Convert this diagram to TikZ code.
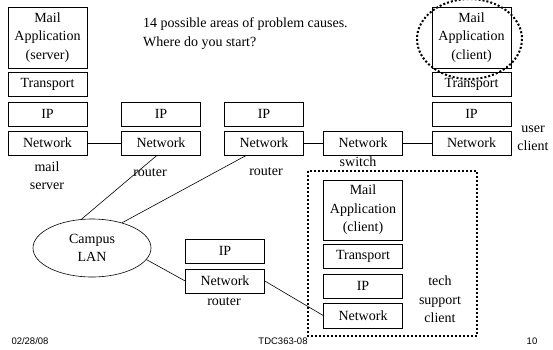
\documentclass[tikz,border=0pt]{standalone}
\usepackage{fontspec}
\setmainfont{Liberation Serif}
\setsansfont{Liberation Sans}
\usetikzlibrary{shapes.geometric}

\begin{document}
\begin{tikzpicture}[x=1pt,y=-1pt,
		layer/.style={draw,line width=0.6pt,minimum width=79pt,minimum height=24pt,inner sep=0pt,font=\fontsize{14}{18.5}\selectfont},
		appbox/.style={layer,minimum height=61pt,align=center},
		lbl/.style={align=center,inner sep=0pt,font=\fontsize{14}{18.5}\selectfont},
		foot/.style={inner sep=0pt,font=\sffamily\fontsize{9.5}{11}\selectfont},
		link/.style={line width=0.6pt},
		hot/.style={line width=2pt,dash pattern=on 2pt off 2pt}]
		\useasboundingbox (0,0) rectangle (553,349);

		% heading
		\node[lbl,anchor=west,align=left] (head) at (143,33.5) {14 possible areas of problem causes.\\Where do you start?};

		% mail server
		\node[appbox] (srvapp) at (47.5,37.5) {Mail\\Application\\(server)};
		\node[layer] (srvtrans) at (47.5,84) {Transport};
		\node[layer] (srvip) at (47.5,114) {IP};
		\node[layer] (srvnet) at (47.5,143) {Network};
		\node[lbl] (srvlbl) at (47,175.5) {mail\\server};

		% routers and switch
		\node[layer] (rOneip) at (161,114) {IP};
		\node[layer] (rOnenet) at (161,143) {Network};
		\node[lbl] (rOnelbl) at (150,173) {router};

		\node[layer] (rTwoip) at (264,114) {IP};
		\node[layer] (rTwonet) at (264,143) {Network};
		\node[lbl] (rTwolbl) at (266,172) {router};

		\node[layer] (swnet) at (363,143) {Network};
		\node[lbl] (swlbl) at (358,162) {switch};

		% user client
		\node[appbox] (cliapp) at (471.5,37.5) {Mail\\Application\\(client)};
		\node[layer] (clitrans) at (471.5,84) {Transport};
		\node[layer] (cliip) at (471.5,114) {IP};
		\node[layer] (clinet) at (471.5,143) {Network};
		\node[lbl] (clilbl) at (533,138.5) {user\\client};

		% campus LAN and router
		\node[ellipse,draw,line width=0.6pt,minimum width=118pt,minimum height=58pt,inner sep=0pt,lbl] (lan) at (92,248) {Campus\\LAN};

		\node[layer] (rThreeip) at (225,251) {IP};
		\node[layer] (rThreenet) at (225,281) {Network};
		\node[lbl] (rThreelbl) at (224,302) {router};

		% tech support client
		\node[appbox,minimum height=60pt] (techapp) at (363,210) {Mail\\Application\\(client)};
		\node[layer] (techtrans) at (363,256) {Transport};
		\node[layer] (techip) at (363,286) {IP};
		\node[layer,minimum height=25pt] (technet) at (363,315.5) {Network};
		\node[lbl] (techlbl) at (440,299.5) {tech\\support\\client};

		% links
		\draw[link] (srvnet) -- (rOnenet);
		\draw[link] (rTwonet) -- (swnet);
		\draw[link] (swnet) -- (clinet);
		\draw[link] (rOnenet.252) -- (lan.110);
		\draw[link] (rTwonet.215) -- (lan.40);
		\draw[link] (lan.-12) -- (rThreenet.west);
		\draw[link] (rThreenet.east) -- (technet.west);

		% dotted marks
		\draw[hot] (469.5,39) ellipse [x radius=52.5, y radius=40];
		\draw[hot] (308,171) rectangle (477,336);

		% footer
		\node[foot] (date) at (30,341) {02/28/08};
		\node[foot] (course) at (283,341) {TDC363-08};
		\node[foot] (page) at (532,341) {10};
\end{tikzpicture}
\end{document}
